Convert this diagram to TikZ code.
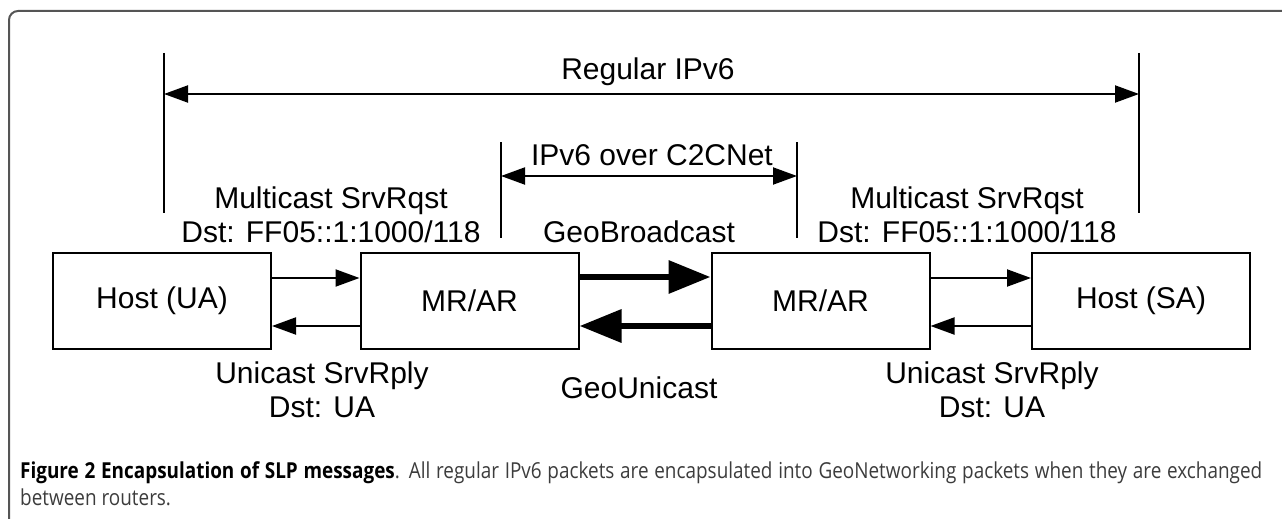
\documentclass[tikz,border=0pt]{standalone}
\usepackage{fontspec}
\setmainfont{Liberation Sans}
\newfontfamily\capfont[FakeStretch=0.86]{Open Sans}
\usetikzlibrary{arrows.meta,calc}
\definecolor{frame_grey}{RGB}{85, 85, 85}
\definecolor{cap_grey}{RGB}{60, 60, 60}
\tikzstyle{box}=[rectangle,draw=black,line width=2pt,inner sep=0pt,
  minimum width=218pt,minimum height=96pt,font=\fontsize{30}{34}\selectfont]
\tikzstyle{lbl}=[inner sep=0pt,align=center,anchor=base,
  font=\fontsize{30}{34}\selectfont]
\tikzstyle{msg}=[line width=2pt,-{Triangle[length=24pt,width=17pt]}]
\tikzstyle{geo}=[line width=6.5pt,-{Triangle[length=42pt,width=32pt]}]
\tikzstyle{spanarrow}=[line width=2pt,
  {Triangle[length=24pt,width=17pt]}-{Triangle[length=24pt,width=17pt]}]
\tikzstyle{limit}=[line width=2pt]
\tikzstyle{none}=[]

\begin{document}
\begin{tikzpicture}[x=1pt,y=-1pt]
		\useasboundingbox (0,0) rectangle (1282,519);
		\draw [frame_grey,line width=2pt,rounded corners=9pt] (9,11) rectangle (1300,530);
		% hosts and routers
		\node [style=box] (0) at (162, 301) {Host (UA)};
		\node [style=box] (1) at (469.5, 301) {MR/AR};
		\node [style=box] (2) at (820.5, 301) {MR/AR};
		\node [style=box] (3) at (1141, 301) {Host (SA)};
		% scope markers
		\coordinate (4) at (164, 53);
		\coordinate (5) at (164, 213);
		\coordinate (6) at (1139, 53);
		\coordinate (7) at (1139, 213);
		\coordinate (8) at (501, 142);
		\coordinate (9) at (501, 238);
		\coordinate (10) at (797, 142);
		\coordinate (11) at (797, 238);
		\coordinate (12) at (164, 94);
		\coordinate (13) at (1139, 94);
		\coordinate (14) at (501, 176);
		\coordinate (15) at (797, 176);
		\draw [style=limit] (4) to (5);
		\draw [style=limit] (6) to (7);
		\draw [style=limit] (8) to (9);
		\draw [style=limit] (10) to (11);
		\draw [style=spanarrow] (12) to (13);
		\draw [style=spanarrow] (14) to (15);
		% labels (base = last line)
		\node [style=lbl] (16) at (648, 79) {Regular IPv6};
		\node [style=lbl] (17) at (652, 165) {IPv6 over C2CNet};
		\node [style=lbl] (18) at (331, 242) {Multicast SrvRqst\\Dst: FF05::1:1000/118};
		\node [style=lbl] (19) at (967, 242) {Multicast SrvRqst\\Dst: FF05::1:1000/118};
		\node [style=lbl] (20) at (639, 242) {GeoBroadcast};
		\node [style=lbl] (21) at (639, 398) {GeoUnicast};
		\node [style=lbl] (22) at (322, 417) {Unicast SrvRply\\Dst: UA};
		\node [style=lbl] (23) at (992, 417) {Unicast SrvRply\\Dst: UA};
		% messages
		\draw [style=msg] ([yshift=23pt]0.east) to ([yshift=23pt]1.west);
		\draw [style=msg] ([yshift=-25pt]1.west) to ([yshift=-25pt]0.east);
		\draw [style=geo] ([yshift=24pt]1.east) to ([yshift=24pt]2.west);
		\draw [style=geo] ([yshift=-25pt]2.west) to ([yshift=-25pt]1.east);
		\draw [style=msg] ([yshift=23pt]2.east) to ([yshift=23pt]3.west);
		\draw [style=msg] ([yshift=-25pt]3.west) to ([yshift=-25pt]2.east);
		% caption
		\node [anchor=north west,text width=1242pt,align=justify,inner sep=0pt,
		  font=\capfont\fontsize{22}{27}\selectfont,text=cap_grey] (24) at (20, 461)
		  {\textbf{\color{black}Figure 2 Encapsulation of SLP messages}. All regular IPv6 packets are encapsulated into GeoNetworking packets when they are exchanged\linebreak between routers.};
\end{tikzpicture}
\end{document}
